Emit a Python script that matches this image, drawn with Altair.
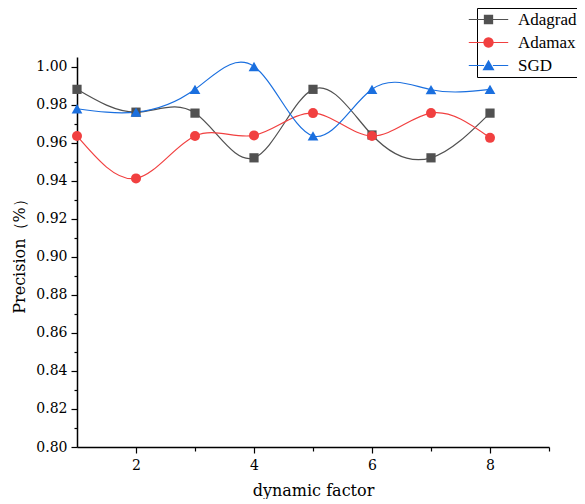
import math
import altair as alt
import pandas as pd

x_vals = [1, 2, 3, 4, 5, 6, 7, 8]
series_names = ["Adagrad", "Adamax", "SGD"]
adagrad = [0.988, 0.976, 0.9755, 0.952, 0.988, 0.964, 0.952, 0.9755]
adamax = [0.9635, 0.9412, 0.9635, 0.9638, 0.9755, 0.9635, 0.9755, 0.9625]
sgd = [0.9778, 0.976, 0.988, 1.000, 0.9635, 0.988, 0.9878, 0.988]
colors = ["#515151", "#F14040", "#1A6FDF"]
shapes = ["square", "circle", "triangle-up"]
marker_sizes = [85, 100, 115]

# legend glyphs: a short line through the marker, drawn as filled shapes
seg = "M-3.6,-0.1H-0.8V0.1H-3.6ZM0.8,-0.1H3.6V0.1H0.8Z"
circ = "M" + "L".join(
    f"{0.95 * math.cos(2 * math.pi * k / 24):.3f},{0.95 * math.sin(2 * math.pi * k / 24):.3f}"
    for k in range(24)
) + "Z"
legend_shapes = [
    seg + "M-0.85,-0.85H0.85V0.85H-0.85Z",
    seg + circ,
    seg + "M0,-1.05L1.1,0.85H-1.1Z",
]
y_major = [0.80, 0.82, 0.84, 0.86, 0.88, 0.90, 0.92, 0.94, 0.96, 0.98, 1.00]
y_minor = [0.81, 0.83, 0.85, 0.87, 0.89, 0.91, 0.93, 0.95, 0.97, 0.99]
x_major = [2, 4, 6, 8]
x_minor = [3, 5, 7, 9]

rows = []
for name, vals in zip(series_names, [adagrad, adamax, sgd]):
    for xv, yv in zip(x_vals, vals):
        rows.append({"x": xv, "value": yv, "series": name})
df = pd.DataFrame(rows)

FONT = "DejaVu Serif"
LEG_FONT = "Liberation Serif"
xscale = alt.Scale(domain=[1, 9], nice=False, zero=False)
yscale = alt.Scale(domain=[0.8, 1.005], nice=False, zero=False)
cscale = alt.Scale(range=colors)

lines = alt.Chart(df).mark_line(interpolate="natural", strokeWidth=1.2).encode(
    x=alt.X("x:Q", scale=xscale,
            axis=alt.Axis(values=x_major, title="dynamic factor", orient="bottom",
                          tickSize=6, labelPadding=5, titlePadding=10, format="d")),
    y=alt.Y("value:Q", scale=yscale,
            axis=alt.Axis(values=y_major, format=".2f", title="Precision（%）", orient="left",
                          tickSize=6, labelPadding=4, titlePadding=8)),
    color=alt.Color("series:N", scale=cscale, legend=None),
)

point_layers = []
for i, (name, shp, sz) in enumerate(zip(series_names, shapes, marker_sizes)):
    if i == 0:
        xax = alt.Axis(values=x_minor, labels=False, tickSize=4, domain=False,
                       title=None, orient="bottom")
        yax = alt.Axis(values=y_minor, labels=False, tickSize=3, domain=False,
                       title=None, orient="left")
    else:
        xax = None
        yax = None
    point_layers.append(
        alt.Chart(df).transform_filter(alt.datum.series == name)
        .mark_point(filled=True, size=sz, opacity=1, shape=shp)
        .encode(
            x=alt.X("x:Q", scale=xscale, axis=xax),
            y=alt.Y("value:Q", scale=yscale, axis=yax),
            color=alt.Color("series:N", scale=cscale, legend=None),
        )
    )

leg = alt.Legend(
    orient="none", legendX=400, legendY=-49, title=None,
    labelFont=LEG_FONT, labelFontSize=17, labelColor="black",
    symbolSize=120, labelOffset=21, rowPadding=5, padding=3,
    strokeColor="black", symbolOpacity=1,
)
legend_layer = alt.Chart(df).transform_filter("false").mark_point(
    size=120, opacity=1, filled=True
).encode(
    x=alt.X("x:Q", scale=xscale, axis=None),
    y=alt.Y("value:Q", scale=yscale, axis=None),
    fill=alt.Fill("series:N", scale=alt.Scale(domain=series_names, range=colors), legend=leg),
    shape=alt.Shape("series:N", scale=alt.Scale(domain=series_names, range=legend_shapes), legend=leg),
)

chart = alt.layer(lines, *point_layers, legend_layer).resolve_axis(
    x="independent", y="independent"
).properties(
    width=472, height=390,
    autosize=alt.AutoSizeParams(type="none"),
    padding={"left": 69, "top": 49, "right": 28, "bottom": 52},
).configure_view(stroke=None).configure_axis(
    grid=False, domainColor="black", domainWidth=1.5, tickColor="black", tickWidth=1.2,
    labelFont=FONT, labelFontSize=14, labelColor="black",
    titleFont=FONT, titleFontSize=16, titleFontWeight="normal", titleColor="black",
)

chart.save("out.html", embed_options={"renderer": "svg", "actions": False})
